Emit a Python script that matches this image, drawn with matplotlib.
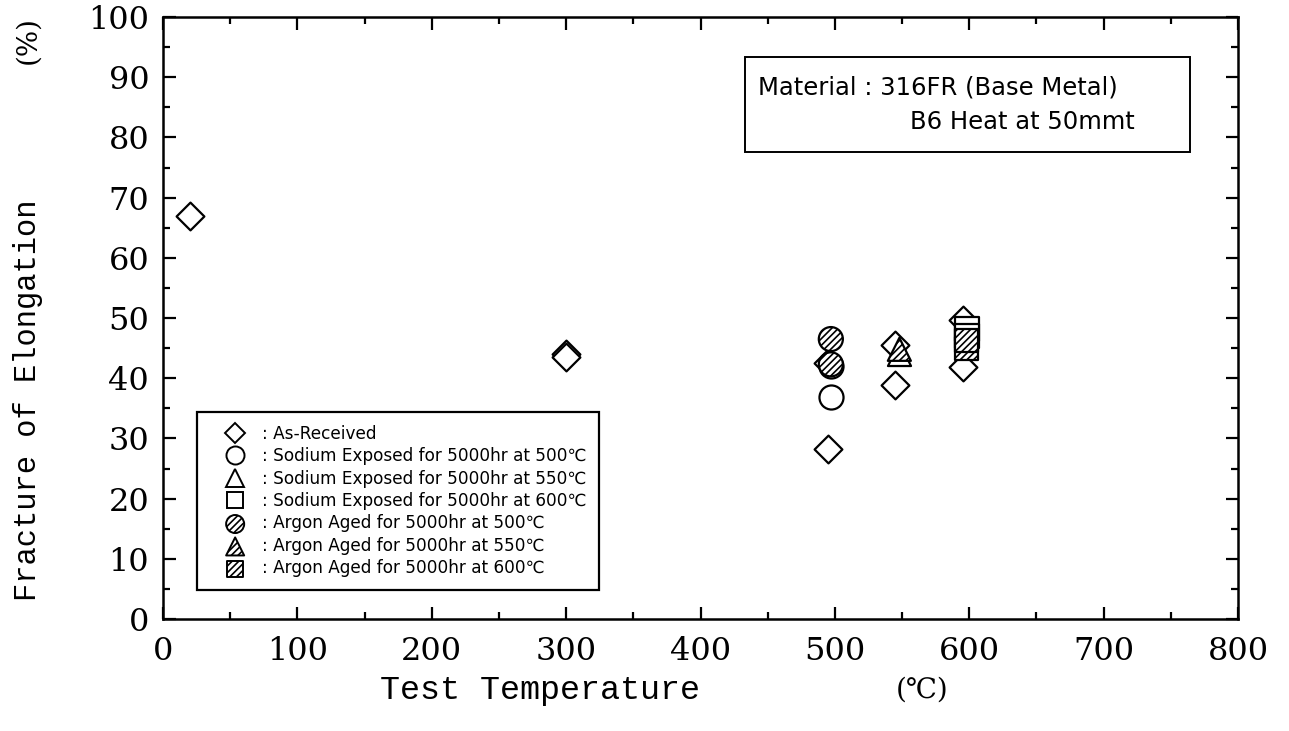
import matplotlib.pyplot as plt
from matplotlib.patches import Rectangle
from matplotlib.lines import Line2D
from matplotlib.ticker import MultipleLocator

# data (temperature in C, elongation in %)
as_rec_t = [20, 300, 300, 495, 495, 545, 545, 595, 595]
as_rec_e = [67.0, 44.0, 43.6, 28.2, 42.5, 38.8, 45.5, 49.7, 41.8]

na500_t = [497, 497]
na500_e = [36.8, 42.0]
na550_t = [548]
na550_e = [44.0]
na600_t = [598, 598]
na600_e = [48.2, 47.0]

ar500_t = [497, 497]
ar500_e = [46.5, 42.3]
ar550_t = [548]
ar550_e = [44.8]
ar600_t = [598, 598]
ar600_e = [45.0, 46.3]

labels = [
    ': As-Received',
    ': Sodium Exposed for 5000hr at 500\u2103',
    ': Sodium Exposed for 5000hr at 550\u2103',
    ': Sodium Exposed for 5000hr at 600\u2103',
    ': Argon Aged for 5000hr at 500\u2103',
    ': Argon Aged for 5000hr at 550\u2103',
    ': Argon Aged for 5000hr at 600\u2103',
]

plt.rcParams['hatch.linewidth'] = 1.2
fig = plt.figure(figsize=(12.89, 7.31), dpi=100)
ax = fig.add_axes([0.1265, 0.1532, 0.8339, 0.8235])

lw = 1.6
kw = dict(facecolors='white', edgecolors='black', linewidths=lw, zorder=3)
ax.scatter(as_rec_t, as_rec_e, marker='D', s=200, **kw)
ax.scatter(na500_t, na500_e, marker='o', s=300, **kw)
ax.scatter(na550_t, na550_e, marker='^', s=275, **kw)
ax.scatter(na600_t, na600_e, marker='s', s=275, **kw)
ax.scatter(ar500_t, ar500_e, marker='o', s=300, hatch='/////', **kw)
ax.scatter(ar550_t, ar550_e, marker='^', s=275, hatch='/////', **kw)
ax.scatter(ar600_t, ar600_e, marker='s', s=275, hatch='/////', **kw)

ax.set_xlim(0, 800)
ax.set_ylim(0, 100)
ax.xaxis.set_major_locator(MultipleLocator(100))
ax.xaxis.set_minor_locator(MultipleLocator(50))
ax.yaxis.set_major_locator(MultipleLocator(10))
ax.yaxis.set_minor_locator(MultipleLocator(5))
ax.tick_params(which='both', direction='in', top=True, right=True, width=1.6)
ax.tick_params(which='major', length=9)
ax.tick_params(which='minor', length=5)
ax.tick_params(axis='x', pad=12)
ax.tick_params(axis='y', pad=10)
for lab in ax.get_xticklabels() + ax.get_yticklabels():
    lab.set_fontfamily('DejaVu Serif')
    lab.set_fontsize(23)
for sp in ax.spines.values():
    sp.set_linewidth(1.8)

# legend
mk = dict(color='black', linestyle='none', markerfacecolor='white',
          markeredgecolor='black', markeredgewidth=1.4)
handles = [
    Line2D([], [], marker='D', markersize=10, **mk),
    Line2D([], [], marker='o', markersize=13, **mk),
    Line2D([], [], marker='^', markersize=13, **mk),
    Line2D([], [], marker='s', markersize=12, **mk),
]
for m, ms in [('o', 13), ('^', 13), ('s', 12)]:
    h = ax.scatter([], [], marker=m, s=ms ** 2, facecolors='white',
                   edgecolors='black', linewidths=1.4, hatch='/////')
    handles.append(h)
leg = ax.legend(handles, labels, loc='lower left',
                bbox_to_anchor=(0.0316, 0.0482), borderaxespad=0,
                prop={'family': ['DejaVu Sans', 'Noto Sans CJK JP'], 'size': 12.2},
                handlelength=3.0, handletextpad=0.1, labelspacing=0.26,
                borderpad=0.75, fancybox=False, edgecolor='black',
                framealpha=1, scatterpoints=1)
leg.get_frame().set_linewidth(1.6)

# material box
ax.add_patch(Rectangle((0.5414, 0.7757), 0.4139, 0.1579, transform=ax.transAxes,
                       fill=False, edgecolor='black', linewidth=1.4, zorder=4))
ax.text(0.5535, 0.8837, 'Material : 316FR (Base Metal)', transform=ax.transAxes,
        ha='left', va='center', fontsize=17.5, family='DejaVu Sans')
ax.text(0.9042, 0.8256, 'B6 Heat at 50mmt', transform=ax.transAxes,
        ha='right', va='center', fontsize=17.5, family='DejaVu Sans')

# axis labels
fig.text(28 / 1289, 1 - 400 / 731, 'Fracture of Elongation', rotation=90,
         ha='center', va='center', fontsize=22, family='Liberation Mono')
fig.text(28 / 1289, 1 - 40 / 731, '(%)', rotation=90,
         ha='center', va='center', fontsize=20, family='DejaVu Serif')
fig.text(540 / 1289, 1 - 690 / 731, 'Test Temperature',
         ha='center', va='center', fontsize=24, family='Liberation Mono')
fig.text(922 / 1289, 1 - 690 / 731, '(\u2103)',
         ha='center', va='center', fontsize=20,
         family=['DejaVu Serif', 'DejaVu Sans'])

fig.savefig('out.png', dpi=100)
